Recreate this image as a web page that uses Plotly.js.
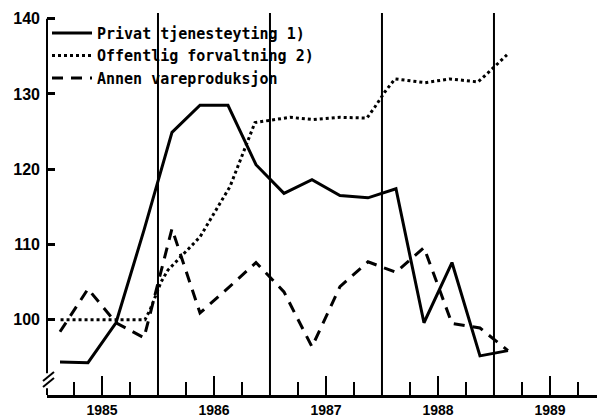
<!DOCTYPE html>
<html><head><meta charset="utf-8">
<script src="https://cdn.plot.ly/plotly-3.0.1.min.js"></script>
<style>html,body{margin:0;padding:0;background:#fff}#chart{width:597px;height:418px}</style>
</head><body><div id="chart"></div>
<script>
// Quarterly positions (decimal years, mid-quarter)
const quarterX = [1985.125, 1985.375, 1985.625, 1985.875, 1986.125, 1986.375, 1986.625, 1986.875,
                  1987.125, 1987.375, 1987.625, 1987.875, 1988.125, 1988.375, 1988.625, 1988.875, 1989.125];
const privat = [94.4, 94.3, 99.6, 111.9, 124.9, 128.5, 128.5, 120.6, 116.8, 118.6, 116.5, 116.2, 117.4, 99.6, 107.6, 95.2, 95.9];
const annen  = [98.4, 104.1, 99.6, 97.6, 112.1, 100.9, 104.2, 107.6, 103.7, 96.4, 104.4, 107.7, 106.3, 109.6, 99.5, 98.9, 95.9];
// Offentlig forvaltning (finer time steps)
const offentligX = [1985.13, 1985.884, 1985.929, 1985.991, 1986.027, 1986.089, 1986.196, 1986.375, 1986.643, 1986.866,
                    1987.179, 1987.384, 1987.625, 1987.866, 1987.938, 1988.027, 1988.116, 1988.384, 1988.607, 1988.857,
                    1988.946, 1989.027, 1989.116];
const offentlig  = [100, 100, 101.3, 103.6, 105.0, 106.6, 108.2, 111.0, 117.7, 126.2,
                    126.9, 126.6, 126.9, 126.8, 128.3, 130.3, 132.0, 131.5, 132.0, 131.6,
                    132.8, 134.0, 135.2];
const seriesNames = ['Privat tjenesteyting 1)', 'Offentlig forvaltning 2)', 'Annen vareproduksjon'];
const yearLabels = ['1985', '1986', '1987', '1988', '1989'];
const yearMid = [1985.5, 1986.5, 1987.5, 1988.5, 1989.5];
const yearBounds = [1986, 1987, 1988, 1989];
const quarterTicks = [1985.25, 1985.75, 1986.25, 1986.75, 1987.25, 1987.75, 1988.25, 1988.75, 1989.25, 1989.75];
const yTicks = [100, 110, 120, 130, 140];

const Y0 = 90, Y1 = 140.76;
const py = v => (v - Y0) / (Y1 - Y0);

const traces = [
  {x: quarterX, y: privat, name: seriesNames[0], mode: 'lines', line: {color: '#000', width: 3}},
  {x: offentligX, y: offentlig, name: seriesNames[1], mode: 'lines', line: {color: '#000', width: 3, dash: '3px,3px'}},
  {x: quarterX, y: annen, name: seriesNames[2], mode: 'lines', line: {color: '#000', width: 3, dash: '11px,8px'}}
];

const shapes = yearBounds.map(b => ({type: 'line', xref: 'x', yref: 'paper', x0: b, x1: b, y0: 0, y1: 1,
  line: {color: '#000', width: 2}}));
// y axis line with break
shapes.push({type: 'line', xref: 'paper', yref: 'paper', x0: 0, x1: 0, y0: py(92.9), y1: py(140), line: {color: '#000', width: 2}});
shapes.push({type: 'line', xref: 'paper', yref: 'paper', x0: 0, x1: 0, y0: 0, y1: py(90.9), line: {color: '#000', width: 2}});
shapes.push({type: 'line', xref: 'paper', yref: 'paper', x0: -0.0073, x1: 0.0127, y0: py(91.86), y1: py(93.06), line: {color: '#000', width: 2}});
shapes.push({type: 'line', xref: 'paper', yref: 'paper', x0: -0.0073, x1: 0.0127, y0: py(91.06), y1: py(92.26), line: {color: '#000', width: 2}});

const layout = {
  width: 597, height: 418,
  margin: {l: 47, r: 0, t: 13, b: 23, pad: 0},
  paper_bgcolor: '#fff', plot_bgcolor: '#fff',
  showlegend: true,
  legend: {x: 0.0, y: 0.99, xanchor: 'left', yanchor: 'top', bgcolor: 'rgba(0,0,0,0)',
    font: {family: 'DejaVu Sans Mono', size: 15, weight: 'bold', color: '#000'}, tracegroupgap: 0, itemwidth: 40},
  xaxis: {range: [1985.009, 1989.92], tickmode: 'array', tickvals: yearMid, ticktext: yearLabels,
    ticks: 'inside', ticklen: 19, tickwidth: 2, tickcolor: '#000',
    showline: true, linewidth: 3, linecolor: '#000', showgrid: false, zeroline: false,
    tickfont: {family: 'Liberation Sans', size: 14, weight: 'bold', color: '#000'}, ticklabelstandoff: 0,
    minor: {tickmode: 'array', tickvals: quarterTicks, ticks: 'inside', ticklen: 13, tickwidth: 2, tickcolor: '#000', showgrid: false}},
  yaxis: {range: [Y0, Y1], tickmode: 'array', tickvals: yTicks, ticks: 'inside', ticklen: 8, tickwidth: 3, tickcolor: '#000',
    showline: false, showgrid: false, zeroline: false,
    tickfont: {family: 'Liberation Sans', size: 16, weight: 'bold', color: '#000'}, ticklabelstandoff: 6},
  shapes: shapes
};
Plotly.newPlot('chart', traces, layout, {displayModeBar: false, staticPlot: true});
</script></body></html>
